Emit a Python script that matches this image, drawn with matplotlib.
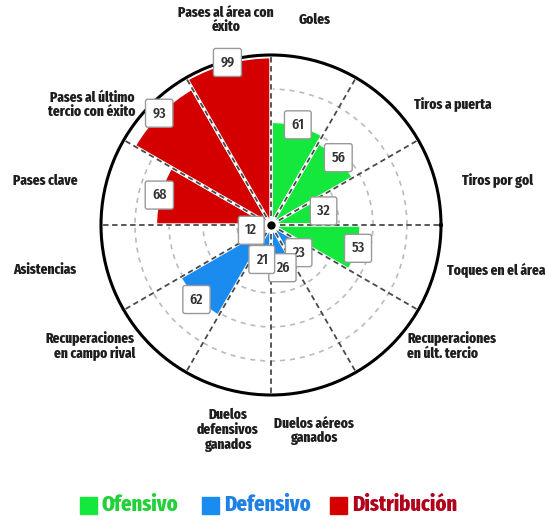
import numpy as np
import matplotlib as mpl
from matplotlib import pyplot as plt
from matplotlib.patches import Rectangle

mpl.rcParams['font.family'] = ['Fira Sans Extra Condensed', 'Fira Sans Condensed', 'DejaVu Sans']
mpl.rcParams['font.weight'] = 'bold'

# data, clockwise from the top
categories = ['Goles', 'Tiros a puerta', 'Tiros por gol', 'Toques en el área',
              'Recuperaciones\nen últ. tercio', 'Duelos aéreos\nganados',
              'Duelos\ndefensivos\nganados', 'Recuperaciones\nen campo rival',
              'Asistencias', 'Pases clave', 'Pases al último\ntercio con éxito',
              'Pases al área con\néxito']
values = [61, 56, 32, 53, 23, 26, 21, 62, 12, 68, 93, 99]
groups = ['Ofensivo'] * 4 + ['Defensivo'] * 4 + ['Distribución'] * 4

group_names = ['Ofensivo', 'Defensivo', 'Distribución']
group_colors = {'Ofensivo': '#14e83c', 'Defensivo': '#1a8cf0', 'Distribución': '#d40000'}
legend_text_colors = {'Ofensivo': '#22d03a', 'Defensivo': '#1f80e4', 'Distribución': '#b0001a'}

# label placement in pixels (x, y from top, ha)
label_pos = [(315, 20, 'center'), (453, 105, 'center'), (498, 181, 'center'),
             (545, 270, 'right'), (407, 346, 'left'), (314, 431, 'center'),
             (228, 430, 'center'), (135, 346, 'right'), (13, 270, 'left'),
             (13, 181, 'left'), (135, 105, 'right'), (226, 20, 'center')]

W, H = 547, 520
cx, cy, R = 271, 225, 170

fig = plt.figure(figsize=(W / 100, H / 100), dpi=100)
ax = fig.add_axes([(cx - R) / W, (H - cy - R) / H, 2 * R / W, 2 * R / H], polar=True)

n = len(values)
width = 2 * np.pi / n
theta = np.deg2rad(75 - 30 * np.arange(n))
colors = [group_colors[g] for g in groups]

ax.bar(theta, values, width=width, color=colors, edgecolor='white', linewidth=2.5, zorder=2)

ax.set_ylim(0, 100)
ax.set_yticks([20, 40, 60, 80])
ax.set_yticklabels([])
ax.set_xticks([])
ax.yaxis.grid(True, color='#bbbbbb', linestyle=(0, (3, 3)), linewidth=1.2)
ax.xaxis.grid(False)
ax.spines['polar'].set_linewidth(2.2)
ax.spines['polar'].set_color('black')

# spokes between sectors
for b in np.deg2rad(90 - 30 * np.arange(n)):
    ax.plot([b, b], [0, 100], color='#4a4a4a', linestyle=(0, (3, 2)), linewidth=1.3, zorder=3)

ax.plot([0], [0], 'o', ms=8, mfc='black', mec='white', mew=2, zorder=4)

for t, v in zip(theta, values):
    ax.text(t, v, str(v), ha='center', va='center', fontsize=11, fontweight='medium',
            color='#333333', zorder=5,
            bbox=dict(boxstyle='round,pad=0.45,rounding_size=0.15', fc='white', ec='#999999', lw=1))

for lab, (x, y, ha) in zip(categories, label_pos):
    fig.text(x / W, 1 - y / H, lab, ha=ha, va='center', multialignment=ha,
             fontsize=10.5, fontweight='heavy', color='#1e1e1e', linespacing=1.05)

# legend
leg_y = 505
sq_x = [80, 202, 330]
for g, x0 in zip(group_names, sq_x):
    fig.patches.append(Rectangle(((x0) / W, 1 - (leg_y + 8.5) / H), 17 / W, 17 / H,
                                 transform=fig.transFigure, color=group_colors[g]))
    fig.text((x0 + 22) / W, 1 - leg_y / H, g, ha='left', va='center', fontsize=16,
             fontweight='heavy', color=legend_text_colors[g])

fig.savefig('out.png', dpi=100)
